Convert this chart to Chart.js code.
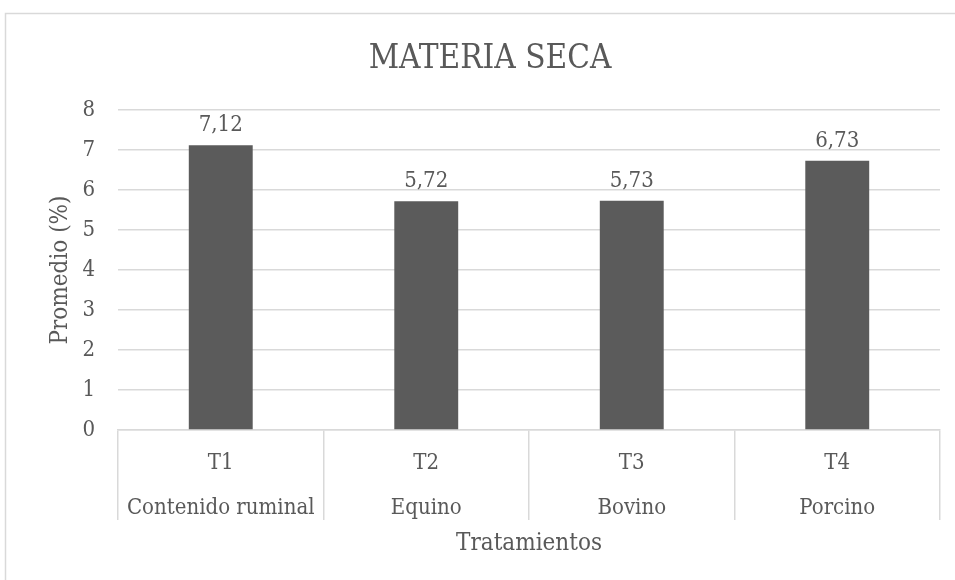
<!DOCTYPE html>
<html>
<head>
<meta charset="utf-8">
<script src="https://cdn.jsdelivr.net/npm/chart.js@4.4.1/dist/chart.umd.min.js"></script>
<style>
  html, body { margin: 0; padding: 0; background: #ffffff; }
  #wrap { width: 955px; height: 580px; position: relative; }
</style>
</head>
<body>
<div id="wrap"><canvas id="chart" width="955" height="580"></canvas></div>
<script>
// Treatments and their mean dry matter (%)
const codes = ['T1', 'T2', 'T3', 'T4'];
const names = ['Contenido ruminal', 'Equino', 'Bovino', 'Porcino'];
const promedio = [7.12, 5.72, 5.73, 6.73];
const yTicks = [0, 1, 2, 3, 4, 5, 6, 7, 8];

const FAMILY = "'DejaVu Serif Condensed', 'DejaVu Serif', serif";
const TEXT = '#595959';
const GRID = '#d9d9d9';

// Light frame around the whole chart
const framePlugin = {
  id: 'frame',
  beforeDraw(chart) {
    const ctx = chart.ctx;
    ctx.save();
    ctx.fillStyle = '#ffffff';
    ctx.fillRect(0, 0, chart.width, chart.height);
    ctx.strokeStyle = GRID;
    ctx.lineWidth = 1.5;
    ctx.strokeRect(5.5, 13.5, chart.width + 20, chart.height + 20);
    ctx.restore();
  }
};

// Value written above each bar, with a decimal comma
const valueLabels = {
  id: 'valueLabels',
  afterDatasetsDraw(chart) {
    const ctx = chart.ctx;
    const meta = chart.getDatasetMeta(0);
    const data = chart.data.datasets[0].data;
    ctx.save();
    ctx.font = '22px ' + FAMILY;
    ctx.fillStyle = TEXT;
    ctx.textAlign = 'center';
    ctx.textBaseline = 'alphabetic';
    meta.data.forEach((bar, i) => {
      ctx.fillText(data[i].toFixed(2).replace('.', ','), bar.x, bar.y - 14);
    });
    ctx.restore();
  }
};

new Chart(document.getElementById('chart'), {
  type: 'bar',
  data: {
    labels: codes.map((c, i) => [c, names[i]]),
    datasets: [{
      data: promedio,
      backgroundColor: '#5b5b5b',
      borderWidth: 0,
      barPercentage: 0.311,
      categoryPercentage: 1.0
    }]
  },
  options: {
    responsive: false,
    animation: false,
    layout: { padding: { left: 40, right: 15, top: 0, bottom: 0 } },
    plugins: {
      legend: { display: false },
      tooltip: { enabled: false },
      title: {
        display: true,
        text: 'MATERIA SECA',
        color: TEXT,
        font: { family: FAMILY, size: 33, weight: 'normal' },
        padding: { top: 40, bottom: 30.4 }
      }
    },
    scales: {
      x: {
        grid: {
          offset: true,
          drawOnChartArea: false,
          drawTicks: true,
          tickLength: 90,
          color: GRID,
          lineWidth: 1.5
        },
        border: { display: true, color: GRID, width: 1.5 },
        ticks: {
          color: TEXT,
          font: { family: FAMILY, size: 22, lineHeight: 45 / 22 },
          padding: -79,
          maxRotation: 0,
          autoSkip: false
        },
        title: {
          display: true,
          text: 'Tratamientos',
          color: TEXT,
          font: { family: FAMILY, size: 24 },
          padding: { top: 0, bottom: 22 }
        },
        afterFit(scale) { scale.height = 150; }
      },
      y: {
        min: 0,
        max: 8,
        afterBuildTicks(scale) { scale.ticks = yTicks.map(v => ({ value: v })); },
        grid: { color: GRID, lineWidth: 1.5, drawTicks: false },
        border: { display: false },
        ticks: {
          color: TEXT,
          font: { family: FAMILY, size: 22 },
          padding: 23
        },
        title: {
          display: true,
          text: 'Promedio (%)',
          color: TEXT,
          font: { family: FAMILY, size: 24 },
          padding: { top: 6, bottom: 0 }
        },
        afterFit(scale) { scale.width = 78; }
      }
    }
  },
  plugins: [framePlugin, valueLabels]
});
</script>
</body>
</html>
